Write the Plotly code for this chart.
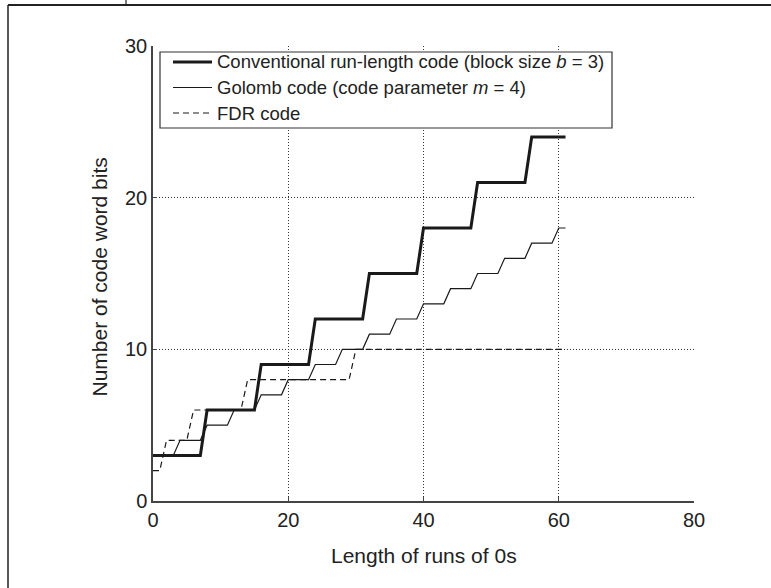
import plotly.graph_objects as go

# Corner points
conv_x = [0, 7, 8, 15, 16, 23, 24, 31, 32, 39, 40, 47, 48, 55, 56, 61]
conv_y = [3, 3, 6, 6, 9, 9, 12, 12, 15, 15, 18, 18, 21, 21, 24, 24]

golomb_x = [0, 3, 4, 7, 8, 11, 12, 15, 16, 19, 20, 23, 24, 27, 28, 31,
            32, 35, 36, 39, 40, 43, 44, 47, 48, 51, 52, 55, 56, 59, 60, 61]
golomb_y = [3, 3, 4, 4, 5, 5, 6, 6, 7, 7, 8, 8, 9, 9, 10, 10,
            11, 11, 12, 12, 13, 13, 14, 14, 15, 15, 16, 16, 17, 17, 18, 18]

fdr_x = [0, 1, 2, 5, 6, 13, 14, 29, 30, 61]
fdr_y = [2, 2, 4, 4, 6, 6, 8, 8, 10, 10]

x_ticks = [0, 20, 40, 60, 80]
y_ticks = [0, 10, 20, 30]

series_names = ["Conventional run-length code (block size <i>b</i> = 3)",
                "Golomb code (code parameter <i>m</i> = 4)",
                "FDR code"]

FONT = "Liberation Sans, Arial, Helvetica, sans-serif"
TXT = "#222222"
LINE = "#1a1a1a"
styles = [dict(color=LINE, width=3),
          dict(color=LINE, width=1.2),
          dict(color=LINE, width=1.2, dash="6px,4px")]

fig = go.Figure()
for xs, ys, nm, st in zip([conv_x, golomb_x, fdr_x], [conv_y, golomb_y, fdr_y],
                          series_names, styles):
    fig.add_trace(go.Scatter(x=xs, y=ys, mode="lines", name=nm, line=st,
                             showlegend=False))

L, R, T, B = 153, 77, 46, 87
W, H = 771, 588
pw, ph = W - L - R, H - T - B

def px(xp):
    return (xp - L) / pw

def py(yp):
    return (H - B - yp) / ph

shapes = [
    # page frame
    dict(type="line", xref="paper", yref="paper", x0=px(8), x1=px(780), y0=py(5), y1=py(5),
         line=dict(color="#222", width=1.8)),
    dict(type="line", xref="paper", yref="paper", x0=px(8), x1=px(8), y0=py(5), y1=py(600),
         line=dict(color="#222", width=1.5)),
    dict(type="line", xref="paper", yref="paper", x0=px(126), x1=px(126), y0=py(-2), y1=py(5),
         line=dict(color="#222", width=1.2)),
    # legend box
    dict(type="rect", xref="paper", yref="paper", x0=px(160), x1=px(612), y0=py(52), y1=py(128),
         line=dict(color="#333333", width=1.2), fillcolor="white", layer="above"),
]

annotations = [
    dict(text="Length of runs of 0s", xref="paper", yref="paper", x=0.5, y=py(555),
         xanchor="center", yanchor="middle", showarrow=False,
         font=dict(family=FONT, size=21, color=TXT)),
    dict(text="Number of code word bits", xref="paper", yref="paper", x=px(98.5), y=py(277),
         xanchor="center", yanchor="middle", textangle=-90, showarrow=False,
         font=dict(family=FONT, size=21, color=TXT)),
]

row_y = [62, 87.5, 113]
for ry, nm, st in zip(row_y, series_names, styles):
    shapes.append(dict(type="line", xref="paper", yref="paper", x0=px(173), x1=px(212),
                       y0=py(ry), y1=py(ry), line=st, layer="above"))
    annotations.append(dict(text=nm, xref="paper", yref="paper", x=px(215), y=py(ry),
                            xanchor="left", yanchor="middle", showarrow=False,
                            font=dict(family=FONT, size=18.5, color=TXT)))

axis_common = dict(showgrid=True, gridcolor="#333333", gridwidth=1, griddash="1px,2px",
                   zeroline=False, showline=True, linecolor="#444444", linewidth=1.5,
                   ticks="inside", ticklen=4, tickcolor="#444444",
                   tickfont=dict(family=FONT, size=20, color=TXT))

fig.update_layout(
    width=W, height=H,
    margin=dict(l=L, r=R, t=T, b=B),
    paper_bgcolor="white", plot_bgcolor="white",
    font=dict(family=FONT, color=TXT),
    xaxis=dict(range=[0, 80], tickvals=x_ticks, **axis_common),
    yaxis=dict(range=[0, 30], tickvals=y_ticks, **axis_common),
    shapes=shapes,
    annotations=annotations,
    showlegend=False,
)

fig.write_html("out.html", config={"displayModeBar": False},
               post_script="document.body.style.margin='0px';document.body.style.overflow='hidden';")
